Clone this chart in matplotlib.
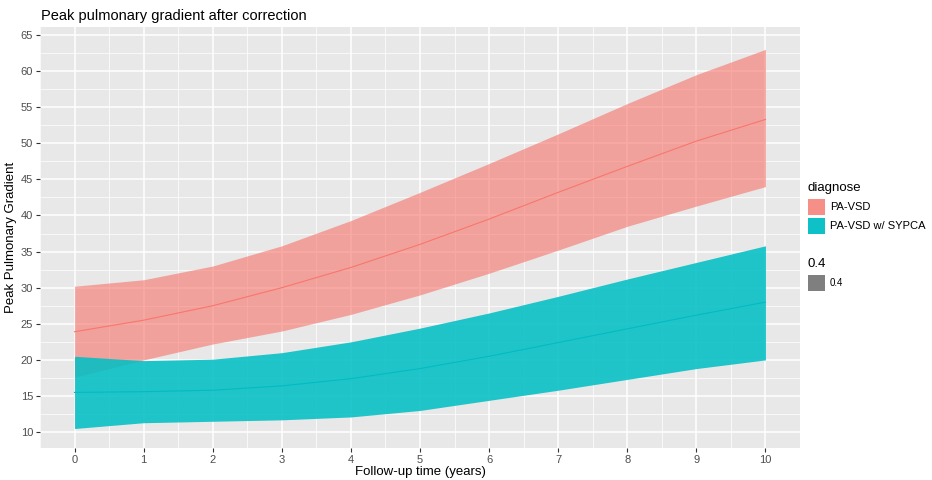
import matplotlib
matplotlib.use("Agg")
import matplotlib.pyplot as plt
from matplotlib.patches import Rectangle
import numpy as np

plt.rcParams['font.family'] = ['Liberation Sans', 'DejaVu Sans']

years = [0, 1, 2, 3, 4, 5, 6, 7, 8, 9, 10]
groups = ["PA-VSD", "PA-VSD w/ SYPCA"]
pa_mean = [23.9, 25.5, 27.5, 30.0, 32.8, 36.0, 39.5, 43.2, 46.8, 50.3, 53.3]
pa_upper = [30.2, 31.1, 33.0, 35.8, 39.3, 43.2, 47.2, 51.3, 55.5, 59.5, 63.0]
pa_lower = [17.6, 20.0, 22.2, 24.0, 26.3, 29.0, 32.0, 35.2, 38.5, 41.3, 44.0]
sy_mean = [15.5, 15.6, 15.8, 16.4, 17.4, 18.8, 20.5, 22.4, 24.3, 26.2, 28.0]
sy_upper = [20.5, 19.9, 20.1, 21.0, 22.5, 24.4, 26.5, 28.8, 31.2, 33.5, 35.8]
sy_lower = [10.5, 11.3, 11.5, 11.7, 12.1, 13.0, 14.4, 15.8, 17.3, 18.8, 20.0]
xticks = list(range(0, 11))
yticks = [10, 15, 20, 25, 30, 35, 40, 45, 50, 55, 60, 65]

c_pa = "#F8766D"
c_sy = "#00BFC4"

W, H = 932, 480
fig = plt.figure(figsize=(W / 100, H / 100), dpi=100)
ax = fig.add_axes([40 / W, 1 - 448 / H, 760 / W, 421 / H])
ax.set_facecolor("#E8E8E8")
ax.set_xlim(-0.5, 10.5)
ax.set_ylim(7.8, 66.1)

for x in np.arange(-0.5, 10.6, 0.5):
    ax.axvline(x, color="white", lw=1.1 if float(x).is_integer() else 0.5, zorder=0)
for y in np.arange(7.5, 66.5, 2.5):
    ax.axhline(y, color="white", lw=1.1 if y % 5 == 0 else 0.5, zorder=0)

ax.plot(years, pa_mean, color=c_pa, lw=0.8, zorder=1)
ax.fill_between(years, pa_lower, pa_upper, color=c_pa, alpha=0.62, lw=0, zorder=2)
ax.plot(years, sy_mean, color="#00A9AE", lw=0.8, zorder=3)
ax.fill_between(years, sy_lower, sy_upper, color=c_sy, alpha=0.87, lw=0, zorder=4)

for s in ax.spines.values():
    s.set_visible(False)
ax.set_xticks(xticks)
ax.set_yticks(yticks)
ax.tick_params(length=3, color="#333333", labelsize=8, labelcolor="#4D4D4D", width=0.8, pad=2)
ax.set_xlabel("Follow-up time (years)", fontsize=9.5, labelpad=1)
ax.set_ylabel("Peak Pulmonary Gradient", fontsize=9.5, labelpad=3)
fig.text(41 / W, 1 - 16 / H, "Peak pulmonary gradient after correction", fontsize=10.5, va="center", ha="left")

# legend
fig.text(808 / W, 1 - 188 / H, "diagnose", fontsize=9.5, va="center", ha="left")
for i, (g, c, a) in enumerate(zip(groups, [c_pa, c_sy], [0.8, 0.95])):
    yc = 207 + i * 19
    fig.patches.append(Rectangle((808 / W, 1 - (yc + 8) / H), 17 / W, 16 / H,
                                 transform=fig.transFigure, facecolor="#F2F2F2", edgecolor="none"))
    fig.patches.append(Rectangle((808 / W, 1 - (yc + 8) / H), 17 / W, 16 / H,
                                 transform=fig.transFigure, facecolor=c, alpha=a, edgecolor="none"))
    fig.text(830 / W, 1 - yc / H, g, fontsize=8, va="center", ha="left")
fig.text(808 / W, 1 - 264 / H, "0.4", fontsize=9.5, va="center", ha="left")
fig.patches.append(Rectangle((808 / W, 1 - 291 / H), 17 / W, 16 / H,
                             transform=fig.transFigure, facecolor="#7F7F7F", edgecolor="none"))
fig.text(830 / W, 1 - 283 / H, "0.4", fontsize=7, va="center", ha="left")

fig.savefig("out.png", dpi=100)
